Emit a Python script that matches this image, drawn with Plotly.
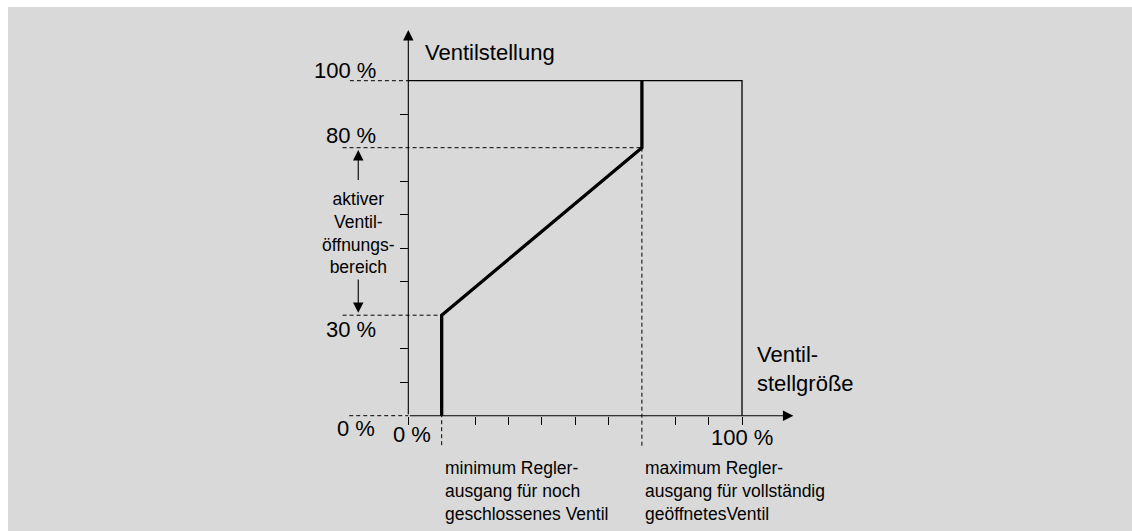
import plotly.graph_objects as go

# Valve characteristic: controller output (x, %) -> valve position (y, %)
controller_output = [10, 10, 70, 70]
valve_position = [0, 30, 80, 100]

min_output, max_output = 10, 70      # controller output limits
min_valve, max_valve = 30, 80        # active valve opening range

y_tick_labels = ["0 %", "30 %", "80 %", "100 %"]
x_tick_labels = ["0 %", "100 %"]

FONT = "Liberation Sans, Arial, Helvetica, sans-serif"
INK = "#000000"
BG = "#d9d9d9"

# axis ranges chosen so that 0..100 spans the framed diagram area
X_RANGE = [-119.96, 216.87]
Y_RANGE = [-34.42, 122.0]

fig = go.Figure()

# framing box (top edge at 100 %, right edge at 100 %)
fig.add_trace(go.Scatter(
    x=[0, 100, 100], y=[100, 100, 0], mode="lines",
    line=dict(color=INK, width=1.3), hoverinfo="skip"))

# dashed guide lines
dash = "4px,3px"
guides_x = [-17.5, 0, None,
            -19.7, max_output, None,
            -19.7, min_output, None,
            -17.7, 0, None,
            min_output, min_output, None,
            max_output, max_output]
guides_y = [100, 100, None,
            max_valve, max_valve, None,
            min_valve, min_valve, None,
            0, 0, None,
            min_valve, -9.3, None,
            max_valve, -9.3]
fig.add_trace(go.Scatter(
    x=guides_x, y=guides_y, mode="lines", connectgaps=False,
    line=dict(color=INK, width=1, dash=dash), hoverinfo="skip"))

# characteristic curve
fig.add_trace(go.Scatter(
    x=controller_output, y=valve_position, mode="lines",
    line=dict(color=INK, width=3.3), hoverinfo="skip"))

annotations = []

def arrow(x, y, ax, ay, width=1.1, size=1.9):
    annotations.append(dict(
        x=x, y=y, ax=ax, ay=ay, xref="x", yref="y", axref="x", ayref="y",
        text="", showarrow=True, arrowhead=2, arrowsize=size,
        arrowwidth=width, arrowcolor=INK))

# axes with arrow heads
arrow(0, 115.1, 0, 0)
arrow(115.4, 0, 0, 0)
# arrows bounding the active opening range
arrow(-15, 79.3, -15, 69.9)
arrow(-15, 30.7, -15, 41.1)

def label(text, x, y, size, xanchor="center", yanchor="middle", align="center"):
    annotations.append(dict(
        text=text, x=x, y=y, xref="x", yref="y", showarrow=False,
        xanchor=xanchor, yanchor=yanchor, align=align,
        font=dict(family=FONT, size=size, color=INK)))

BIG, SMALL = 22, 17.5

label("Ventilstellung", 4.5, 108.4, BIG, xanchor="left")
label("Ventil-<br>stellgröße", 103.9, 14.0, BIG, xanchor="left", align="left")

# y-axis value labels
label(y_tick_labels[3], -9.0, 103.0, BIG, xanchor="right")
label(y_tick_labels[2], -9.0, 83.5, BIG, xanchor="right")
label(y_tick_labels[1], -9.0, min_valve - 4.4, BIG, xanchor="right")
label(y_tick_labels[0], -9.5, -3.9, BIG, xanchor="right")

# x-axis value labels
label(x_tick_labels[0], 1.2, -5.5, BIG)
label(x_tick_labels[1], 100.1, -6.5, BIG)

label("aktiver<br>Ventil-<br>öffnungs-<br>bereich", -15, 54.6, SMALL)

label("minimum Regler-<br>ausgang für noch<br>geschlossenes Ventil",
      10.5, -22.4, SMALL, xanchor="left", align="left")
label("maximum Regler-<br>ausgang für vollständig<br>geöffnetesVentil",
      70.4, -22.4, SMALL, xanchor="left", align="left")

x_pos = (0 - Y_RANGE[0]) / (Y_RANGE[1] - Y_RANGE[0])
y_pos = (0 - X_RANGE[0]) / (X_RANGE[1] - X_RANGE[0])

fig.update_layout(
    width=1132, height=531,
    margin=dict(l=8, r=0, t=7, b=0, pad=0),
    paper_bgcolor="#ffffff", plot_bgcolor=BG,
    showlegend=False, hovermode=False,
    annotations=annotations,
    xaxis=dict(range=X_RANGE, anchor="free", position=x_pos,
               showgrid=False, zeroline=False, showline=False,
               tickmode="array", tickvals=[0, 20, 30, 40, 50, 60, 80, 90, 100],
               ticks="outside", ticklen=8, tickwidth=1, tickcolor=INK,
               showticklabels=False, fixedrange=True),
    yaxis=dict(range=Y_RANGE, anchor="free", position=y_pos,
               showgrid=False, zeroline=False, showline=False,
               tickmode="array", tickvals=[10, 20, 40, 50, 60, 70, 90],
               ticks="outside", ticklen=8, tickwidth=1, tickcolor=INK,
               showticklabels=False, fixedrange=True),
)

fig.write_html("out.html", config={"displayModeBar": False})
